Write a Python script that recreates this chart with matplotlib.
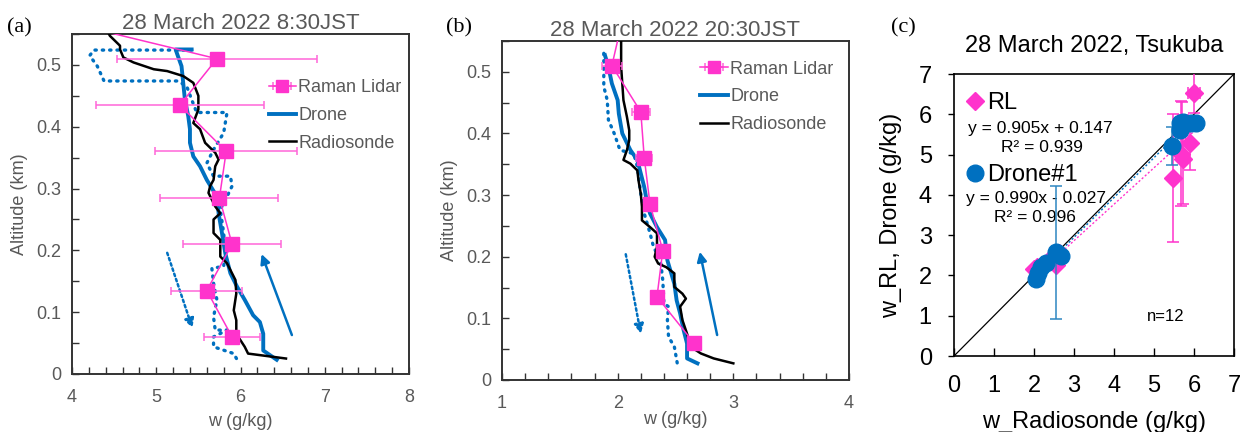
import matplotlib
matplotlib.use("Agg")
import numpy as np
import matplotlib.pyplot as plt
from matplotlib.ticker import MultipleLocator
from matplotlib.lines import Line2D

plt.rcParams['font.family'] = ['Liberation Sans', 'DejaVu Sans']

PINK = '#FF33CC'
PINK_ERR = '#FF66D9'
BLUE = '#0070C0'
GREY = '#595959'

# ---------------- (a) 28 March 2022 8:30 JST ----------------
rl_a_w = [3.45, 5.72, 5.28, 5.83, 5.75, 5.90, 5.60, 5.90]
rl_a_alt = [0.585, 0.51, 0.435, 0.36, 0.285, 0.21, 0.135, 0.06]
rl_a_err = [0.0, 1.19, 1.0, 0.84, 0.70, 0.58, 0.42, 0.33]

drone_up_a_w = [6.43, 6.27, 6.27, 6.23, 6.15, 6.05, 5.96, 5.88, 5.82, 5.78, 5.74, 5.72,
                5.60, 5.52, 5.44, 5.40, 5.40, 5.38, 5.34, 5.32, 5.30, 5.25, 5.23, 5.42]
drone_up_a_alt = [0.023, 0.038, 0.065, 0.084, 0.095, 0.12, 0.141, 0.163, 0.195, 0.228, 0.26, 0.287,
                  0.314, 0.336, 0.352, 0.374, 0.396, 0.417, 0.444, 0.471, 0.498, 0.517, 0.525, 0.525]

drone_dn_a_w = [5.42, 4.26, 4.21, 4.30, 4.38, 5.25, 5.36, 5.42, 5.48, 5.84, 5.80, 5.68, 5.60,
                5.68, 5.88, 5.90, 5.84, 5.76, 5.80, 5.82, 5.80, 5.66, 5.68, 5.72, 5.68, 5.70,
                5.84, 5.68, 5.68, 5.92, 5.96]
drone_dn_a_alt = [0.524, 0.524, 0.515, 0.498, 0.474, 0.474, 0.466, 0.444, 0.423, 0.423, 0.39,
                  0.363, 0.341, 0.32, 0.32, 0.304, 0.287, 0.266, 0.228, 0.195, 0.174, 0.171,
                  0.147, 0.12, 0.092, 0.071, 0.071, 0.06, 0.044, 0.033, 0.023]

sonde_a_w = [6.54, 6.09, 6.05, 5.95, 5.95, 5.92, 5.95, 5.94, 5.84, 5.76, 5.76, 5.68, 5.68,
             5.76, 5.70, 5.62, 5.64, 5.68, 5.70, 5.74, 5.70, 5.58, 5.52, 5.44, 5.50, 5.50,
             5.44, 5.32, 5.13, 4.97, 4.73, 4.61, 4.57, 4.57, 4.45, 4.40]
sonde_a_alt = [0.025, 0.033, 0.044, 0.065, 0.087, 0.103, 0.13, 0.152, 0.179, 0.19, 0.217,
               0.228, 0.25, 0.26, 0.271, 0.293, 0.304, 0.314, 0.336, 0.347, 0.358, 0.374,
               0.396, 0.406, 0.428, 0.45, 0.471, 0.482, 0.49, 0.493, 0.504, 0.512, 0.525,
               0.531, 0.547, 0.56]

arrow_dn_a = [(5.13, 0.196), (5.43, 0.074)]
arrow_up_a = [(6.61, 0.063), (6.25, 0.194)]

# ---------------- (b) 28 March 2022 20:30 JST ----------------
rl_b_w = [2.06, 1.95, 2.20, 2.23, 2.28, 2.39, 2.34, 2.66]
rl_b_alt = [0.60, 0.51, 0.435, 0.36, 0.285, 0.21, 0.135, 0.06]
rl_b_err = [0.0, 0.087, 0.077, 0.068, 0.05, 0.05, 0.04, 0.04]

drone_up_b_w = [2.69, 2.60, 2.60, 2.57, 2.54, 2.51, 2.49, 2.43, 2.41, 2.34, 2.28, 2.25,
                2.23, 2.20, 2.17, 2.11, 2.04, 2.01, 2.00, 1.95, 1.92, 1.89]
drone_up_b_alt = [0.027, 0.035, 0.059, 0.081, 0.108, 0.129, 0.156, 0.194, 0.227, 0.248,
                  0.27, 0.292, 0.313, 0.335, 0.357, 0.373, 0.40, 0.432, 0.454, 0.481, 0.508, 0.527]

drone_dn_b_w = [1.88, 1.88, 1.91, 1.92, 1.97, 2.02, 2.14, 2.17, 2.20, 2.23, 2.28, 2.31,
                2.37, 2.39, 2.40, 2.44, 2.43, 2.44, 2.49, 2.52]
drone_dn_b_alt = [0.53, 0.476, 0.454, 0.422, 0.40, 0.373, 0.367, 0.346, 0.302, 0.27,
                  0.238, 0.216, 0.194, 0.162, 0.124, 0.119, 0.097, 0.07, 0.054, 0.022]

sonde_b_w = [3.00, 2.83, 2.72, 2.63, 2.60, 2.56, 2.54, 2.59, 2.56, 2.49, 2.49, 2.42, 2.35,
             2.32, 2.34, 2.34, 2.28, 2.21, 2.21, 2.20, 2.18, 2.17, 2.11, 2.05, 2.08, 2.10,
             2.10, 2.08, 2.05, 2.04, 2.03, 2.03, 2.03]
sonde_b_alt = [0.027, 0.035, 0.043, 0.054, 0.075, 0.097, 0.119, 0.132, 0.14, 0.151, 0.173,
               0.183, 0.189, 0.20, 0.216, 0.238, 0.248, 0.259, 0.281, 0.302, 0.324, 0.34,
               0.351, 0.357, 0.373, 0.389, 0.405, 0.427, 0.454, 0.481, 0.508, 0.535, 0.56]

arrow_dn_b = [(2.07, 0.204), (2.20, 0.075)]
arrow_up_b = [(2.86, 0.073), (2.71, 0.208)]

# ---------------- (c) scatter, Tsukuba ----------------
rl_c_x = [6.00, 5.91, 5.67, 5.72, 5.47, 5.70, 2.00, 2.08, 2.20, 2.34, 2.56, 2.62]
rl_c_y = [6.53, 5.28, 5.02, 4.88, 4.42, 5.60, 2.17, 2.20, 2.24, 2.35, 2.27, 2.55]
rl_c_yerr = [0.50, 0.66, 1.30, 1.10, 1.58, 0.70, 0.05, 0.06, 0.07, 0.08, 0.09, 0.10]
rl_c_xerr = [0.15, 0.05, 0.05, 0.05, 0.05, 0.05, 0.02, 0.02, 0.02, 0.02, 0.02, 0.02]

dr_c_x = [5.45, 5.64, 5.65, 5.72, 5.93, 6.04, 2.06, 2.10, 2.18, 2.31, 2.54, 2.68]
dr_c_y = [5.22, 5.61, 5.78, 5.82, 5.78, 5.78, 1.92, 2.05, 2.21, 2.30, 2.57, 2.48]
dr_c_yerr = [0.47, 0.10, 0.08, 0.08, 0.06, 0.06, 0.05, 0.05, 0.05, 0.05, 1.65, 0.05]

rl_fit = (0.905, 0.147, 0.939)
dr_fit = (0.990, -0.027, 0.996)


def draw_profile(ax, rl_w, rl_alt, rl_err, up_w, up_alt, dn_w, dn_alt, s_w, s_alt,
                 arr_dn, arr_up, xlim, title, leg_anchor):
    ax.plot(dn_w, dn_alt, color=BLUE, lw=2.4, linestyle=(0, (0.4, 1.8)),
            dash_capstyle='round', zorder=2)
    ax.plot(up_w, up_alt, color=BLUE, lw=2.8, zorder=3, label='Drone')
    ax.plot(s_w, s_alt, color='black', lw=1.8, zorder=4, label='Radiosonde')
    ax.errorbar(rl_w, rl_alt, xerr=rl_err, color=PINK, ecolor=PINK_ERR, elinewidth=1.1,
                capsize=3, capthick=1.1, lw=1.1, marker='s', ms=10, mfc=PINK, mec=PINK,
                zorder=5, label='Raman Lidar')

    ax.annotate('', xy=arr_dn[1], xytext=arr_dn[0],
                arrowprops=dict(arrowstyle='-|>', color=BLUE, lw=1.8, linestyle=(0, (1, 1.2)),
                                mutation_scale=14, shrinkA=0, shrinkB=0))
    ax.annotate('', xy=arr_up[1], xytext=arr_up[0],
                arrowprops=dict(arrowstyle='-|>', color=BLUE, lw=1.8,
                                mutation_scale=14, shrinkA=0, shrinkB=0))

    ax.set_xlim(*xlim)
    ax.set_ylim(0, 0.55)
    ax.xaxis.set_major_locator(MultipleLocator(1))
    ax.xaxis.set_minor_locator(MultipleLocator(0.2))
    ax.yaxis.set_major_locator(MultipleLocator(0.1))
    ax.yaxis.set_minor_locator(MultipleLocator(0.05))
    ax.yaxis.set_major_formatter(plt.FuncFormatter(lambda v, p: '0' if v == 0 else f'{v:.1f}'))
    ax.tick_params(which='both', direction='in', colors='#333333', labelcolor=GREY,
                   labelsize=13, width=1)
    ax.tick_params(which='major', length=5, pad=8)
    ax.tick_params(axis='x', which='major', pad=11)
    ax.tick_params(which='minor', length=5)
    for sp in ax.spines.values():
        sp.set_color('#333333')
        sp.set_linewidth(1.4)
    ax.set_title(title, color=GREY, fontsize=16, pad=3)
    ax.set_ylabel('Altitude (km)', color=GREY, fontsize=13, labelpad=6)

    h, l = ax.get_legend_handles_labels()
    order = [l.index('Raman Lidar'), l.index('Drone'), l.index('Radiosonde')]
    leg = ax.legend([h[i] for i in order], [l[i] for i in order], loc='upper left',
                    bbox_to_anchor=leg_anchor, frameon=False, fontsize=13,
                    handlelength=1.5, handletextpad=0.15, labelspacing=0.6, markerscale=0.8)
    for t in leg.get_texts():
        t.set_color(GREY)


fig = plt.figure(figsize=(12.5, 4.32), dpi=100)

ax_a = fig.add_axes([0.0576, 0.1343, 0.2696, 0.787])
draw_profile(ax_a, rl_a_w, rl_a_alt, rl_a_err, drone_up_a_w, drone_up_a_alt,
             drone_dn_a_w, drone_dn_a_alt, sonde_a_w, sonde_a_alt,
             arrow_dn_a, arrow_up_a, (4, 8), '28 March 2022 8:30JST', (0.535, 0.915))
ax_a.set_xlabel('w (g/kg)', color=GREY, fontsize=13, labelpad=5)

ax_b = fig.add_axes([0.4016, 0.1204, 0.2776, 0.7847])
draw_profile(ax_b, rl_b_w, rl_b_alt, rl_b_err, drone_up_b_w, drone_up_b_alt,
             drone_dn_b_w, drone_dn_b_alt, sonde_b_w, sonde_b_alt,
             arrow_dn_b, arrow_up_b, (1, 4), '28 March 2022 20:30JST', (0.525, 0.99))
ax_b.set_xlabel('w (g/kg)', color=GREY, fontsize=13, labelpad=-1)

# (c)
ax_c = fig.add_axes([0.7632, 0.1759, 0.224, 0.6528])
ax_c.plot([0, 7], [0, 7], color='black', lw=0.9, zorder=1)
xr = np.array([min(rl_c_x), max(rl_c_x)])
ax_c.plot(xr, rl_fit[0] * xr + rl_fit[1], color=PINK, lw=1, linestyle=(0, (1.5, 1.5)), zorder=2)
xd = np.array([min(dr_c_x), max(dr_c_x)])
ax_c.plot(xd, dr_fit[0] * xd + dr_fit[1], color=BLUE, lw=1, linestyle=(0, (1.5, 1.5)), zorder=2)
ax_c.errorbar(rl_c_x, rl_c_y, xerr=rl_c_xerr, yerr=rl_c_yerr, fmt='D', ms=9, mfc=PINK, mec=PINK,
              ecolor=PINK, elinewidth=1.1, capsize=4, capthick=1.1, zorder=3)
ax_c.errorbar(dr_c_x, dr_c_y, yerr=dr_c_yerr, fmt='o', ms=12, mfc=BLUE, mec=BLUE,
              ecolor='#2E86C1', elinewidth=1.1, capsize=4, capthick=1.1, zorder=4)
ax_c.set_xlim(0, 7)
ax_c.set_ylim(0, 7)
ax_c.xaxis.set_major_locator(MultipleLocator(1))
ax_c.yaxis.set_major_locator(MultipleLocator(1))
ax_c.tick_params(axis='x', direction='in', length=6, width=1, labelsize=17, pad=14)
ax_c.tick_params(axis='y', direction='out', length=4, width=1, labelsize=17, pad=12)
for sp in ax_c.spines.values():
    sp.set_linewidth(1.2)
ax_c.set_title('28 March 2022, Tsukuba', fontsize=17, pad=16)
ax_c.set_xlabel('w_Radiosonde (g/kg)', fontsize=17, labelpad=10)
ax_c.set_ylabel('w_RL, Drone (g/kg)', fontsize=17, labelpad=12)

leg1 = ax_c.legend([Line2D([], [], marker='D', ls='', ms=9, mfc=PINK, mec=PINK)], ['RL'],
                   loc='upper left', bbox_to_anchor=(-0.03, 1.01), frameon=False, fontsize=17,
                   handlelength=0.7, handletextpad=0.15)
ax_c.add_artist(leg1)
ax_c.legend([Line2D([], [], marker='o', ls='', ms=12, mfc=BLUE, mec=BLUE)], ['Drone#1'],
            loc='upper left', bbox_to_anchor=(-0.03, 0.755), frameon=False, fontsize=17,
            handlelength=0.7, handletextpad=0.15)
ax_c.text(0.31, 0.805, f'y = {rl_fit[0]:.3f}x + {rl_fit[1]:.3f}', transform=ax_c.transAxes,
          ha='center', va='center', fontsize=12.5)
ax_c.text(0.315, 0.738, f'R\u00b2 = {rl_fit[2]:.3f}', transform=ax_c.transAxes,
          ha='center', va='center', fontsize=12.5)
ax_c.text(0.294, 0.56, f'y = {dr_fit[0]:.3f}x - {abs(dr_fit[1]):.3f}', transform=ax_c.transAxes,
          ha='center', va='center', fontsize=12.5)
ax_c.text(0.29, 0.49, f'R\u00b2 = {dr_fit[2]:.3f}', transform=ax_c.transAxes,
          ha='center', va='center', fontsize=12.5)
ax_c.text(0.757, 0.14, f'n={len(dr_c_x)}', transform=ax_c.transAxes,
          ha='center', va='center', fontsize=12)

for lab, x in (('(a)', 0.006), ('(b)', 0.357), ('(c)', 0.713)):
    fig.text(x, 0.935, lab, family=['Liberation Serif', 'DejaVu Serif'], fontsize=16,
             va='center')

fig.savefig('out.png', dpi=100)
